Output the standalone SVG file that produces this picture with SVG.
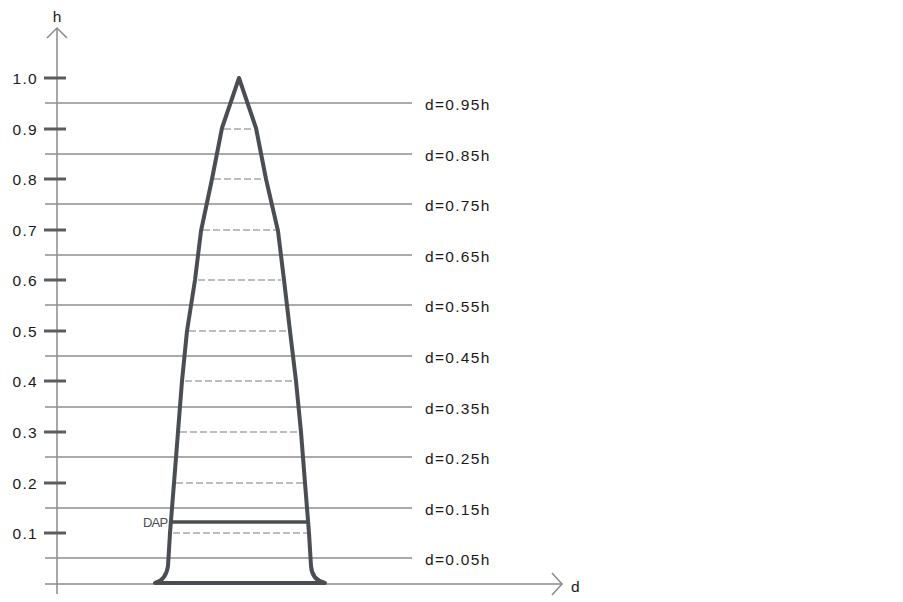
<svg xmlns="http://www.w3.org/2000/svg" width="903" height="602" viewBox="0 0 903 602">
<style>
.ax{stroke:#8a8a8a;stroke-width:1.5;fill:none}
.grid{stroke:#8e8e8e;stroke-width:1.5}
.tick{stroke:#5a5d60;stroke-width:3}
.dash{stroke:#a8a8a8;stroke-width:1.5;stroke-dasharray:7 3}
.lbl{font-family:"Liberation Sans",Arial,sans-serif;font-size:15.5px;fill:#1a1a1a;letter-spacing:1.3px}
.tree{stroke:#4a4e53;stroke-width:4;fill:none;stroke-linejoin:round}
</style>
<rect width="903" height="602" fill="#ffffff"/>
<g id="axes">
<line class="ax" x1="57" y1="29" x2="57" y2="594"/>
<polyline class="ax" points="47,38 57,28 67,38"/>
<line class="ax" x1="45" y1="584" x2="561" y2="584"/>
<polyline class="ax" points="552,573 562,584 552,595"/>
<text x="57" y="22" text-anchor="middle" class="lbl" style="letter-spacing:0">h</text>
<text x="571" y="592" class="lbl" style="letter-spacing:0">d</text>
</g>
<g id="ticks">
<line class="tick" x1="44" y1="78" x2="66" y2="78"/>
<line class="tick" x1="44" y1="129" x2="66" y2="129"/>
<line class="tick" x1="44" y1="179" x2="66" y2="179"/>
<line class="tick" x1="44" y1="230" x2="66" y2="230"/>
<line class="tick" x1="44" y1="280" x2="66" y2="280"/>
<line class="tick" x1="44" y1="331" x2="66" y2="331"/>
<line class="tick" x1="44" y1="381" x2="66" y2="381"/>
<line class="tick" x1="44" y1="432" x2="66" y2="432"/>
<line class="tick" x1="44" y1="483" x2="66" y2="483"/>
<line class="tick" x1="44" y1="533" x2="66" y2="533"/>
<g class="lbl" text-anchor="end">
<text x="38" y="84">1.0</text>
<text x="38" y="135">0.9</text>
<text x="38" y="185">0.8</text>
<text x="38" y="236">0.7</text>
<text x="38" y="286">0.6</text>
<text x="38" y="337">0.5</text>
<text x="38" y="387">0.4</text>
<text x="38" y="438">0.3</text>
<text x="38" y="489">0.2</text>
<text x="38" y="539">0.1</text>
</g>
</g>
<g id="levels">
<line class="grid" x1="45" y1="103" x2="412" y2="103"/>
<line class="grid" x1="45" y1="154" x2="412" y2="154"/>
<line class="grid" x1="45" y1="204" x2="412" y2="204"/>
<line class="grid" x1="45" y1="255" x2="412" y2="255"/>
<line class="grid" x1="45" y1="305" x2="412" y2="305"/>
<line class="grid" x1="45" y1="356" x2="412" y2="356"/>
<line class="grid" x1="45" y1="407" x2="412" y2="407"/>
<line class="grid" x1="45" y1="457" x2="412" y2="457"/>
<line class="grid" x1="45" y1="508" x2="412" y2="508"/>
<line class="grid" x1="45" y1="558" x2="412" y2="558"/>
<g class="lbl">
<text x="425" y="110">d=0.95h</text>
<text x="425" y="161">d=0.85h</text>
<text x="425" y="211">d=0.75h</text>
<text x="425" y="262">d=0.65h</text>
<text x="425" y="312">d=0.55h</text>
<text x="425" y="363">d=0.45h</text>
<text x="425" y="414">d=0.35h</text>
<text x="425" y="464">d=0.25h</text>
<text x="425" y="515">d=0.15h</text>
<text x="425" y="565">d=0.05h</text>
</g>
</g>
<g id="tree">
<line class="dash" x1="224" y1="129" x2="254" y2="129"/>
<line class="dash" x1="214" y1="179" x2="263" y2="179"/>
<line class="dash" x1="203" y1="230" x2="276" y2="230"/>
<line class="dash" x1="198" y1="280" x2="281" y2="280"/>
<line class="dash" x1="189" y1="331" x2="287" y2="331"/>
<line class="dash" x1="185" y1="381" x2="294" y2="381"/>
<line class="dash" x1="180" y1="432" x2="299" y2="432"/>
<line class="dash" x1="176" y1="483" x2="303" y2="483"/>
<line class="dash" x1="173" y1="533" x2="307" y2="533"/>
<path class="tree" d="M239,78 L222,128 L212,179 L201,231 L195,280 L187,331 L182,381 L178,432 L174,483 L170,533 L168,566 Q166,580 155,583 L325,583 Q312,580 311,566 L309,533 L305,483 L301,432 L296,381 L290,331 L284,280 L278,231 L266,179 L256,128 Z"/>
<line class="tree" x1="170" y1="522" x2="309" y2="522" style="stroke-width:3.5"/>
<text x="143" y="527" style="font-family:'Liberation Sans Narrow','Liberation Sans',Arial,sans-serif;font-size:13px;fill:#4a4e53;letter-spacing:-0.8px">DAP</text>
</g>
</svg>
